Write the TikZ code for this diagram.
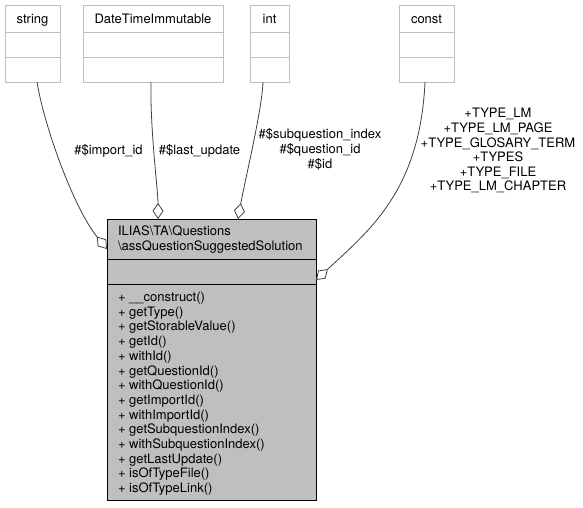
\documentclass[tikz,border=0pt]{standalone}
\usepackage{fontspec}
\setmainfont{TeX Gyre Heros}
\usetikzlibrary{arrows.meta,calc}
\definecolor{edgegray}{HTML}{404040}
\definecolor{boxline}{HTML}{BFBFBF}
\definecolor{mainfill}{HTML}{BFBFBF}
\begin{document}
\begin{tikzpicture}[x=1pt,y=-1pt,
  every node/.style={font=\fontsize{13}{13.6}\selectfont, inner sep=0pt, outer sep=0pt},
  typebox/.style={draw=boxline, line width=1pt, fill=white, anchor=north west, minimum height=77pt},
  mainbox/.style={draw=black, line width=1pt, fill=mainfill, anchor=north west, minimum width=209pt, minimum height=281pt},
  divider/.style={draw=boxline, line width=1pt},
  maindiv/.style={draw=black, line width=1pt},
  txt/.style={anchor=base west},
  lbl/.style={anchor=base},
  edge/.style={draw=edgegray, line width=0.8pt, -{Diamond[open, length=16pt, width=11pt, line width=0.8pt]}}]
\useasboundingbox (0,0) rectangle (583,507);
\fill[white] (0,0) rectangle (583,507);

% type boxes
\node[typebox, minimum width=55pt] (string) at (5,5) {};
\node[typebox, minimum width=140pt] (dti) at (83,5) {};
\node[typebox, minimum width=39pt] (int) at (250,5) {};
\node[typebox, minimum width=55pt] (const) at (399,5) {};
\foreach \b in {string,dti,int,const} {
  \draw[divider] ($(\b.north west)+(0,27)$) -- ($(\b.north east)+(0,27)$);
  \draw[divider] ($(\b.north west)+(0,52)$) -- ($(\b.north east)+(0,52)$);
}
\node[lbl] (tstring) at ($(string.north)+(0,18)$) {string};
\node[lbl] (tdti) at ($(dti.north)+(0,18)$) {DateTimeImmutable};
\node[lbl] (tint) at ($(int.north)+(0,18)$) {int};
\node[lbl] (tconst) at ($(const.north)+(0,18)$) {const};

% main class
\node[mainbox] (main) at (107,219) {};
\draw[maindiv] ($(main.north west)+(0,40)$) -- ($(main.north east)+(0,40)$);
\draw[maindiv] ($(main.north west)+(0,65)$) -- ($(main.north east)+(0,65)$);
\node[txt] (title1) at (118,235.5) {ILIAS\textbackslash TA\textbackslash Questions};
\node[txt] (title2) at (118,250.5) {\textbackslash assQuestionSuggestedSolution};
\foreach \m [count=\i from 0] in {%
  {+ \_\_construct()},{+ getType()},{+ getStorableValue()},{+ getId()},{+ withId()},%
  {+ getQuestionId()},{+ withQuestionId()},{+ getImportId()},{+ withImportId()},%
  {+ getSubquestionIndex()},{+ withSubquestionIndex()},{+ getLastUpdate()},%
  {+ isOfTypeFile()},{+ isOfTypeLink()}} {
  \node[txt] (m\i) at (118,{301.5+14.7*\i}) {\m};
}

% edges
\draw[edge] ($(string.south)+(4.5,0)$) .. controls (45,130) and (75,210) .. ($(main.north west)+(0,30)$);
\draw[edge] ($(dti.south)+(-2,0)$) .. controls (150,130) and (158,190) .. ($(main.north west)+(51,0)$);
\draw[edge] ($(int.south)+(-6.5,0)$) .. controls (262,110) and (245,180) .. ($(main.north west)+(131,0)$);
\draw[edge] ($(const.south)+(-1.5,0)$) .. controls (420,190) and (370,230) .. ($(main.north east)+(0,61)$);

% edge labels
\node[lbl] (limport) at (108.5,154.5) {\#\$import\_id};
\node[lbl] (lupdate) at (199.5,154.5) {\#\$last\_update};
\node[lbl] (lsub) at (320,138.5) {\#\$subquestion\_index};
\node[lbl] (lqid) at (320,153.5) {\#\$question\_id};
\node[lbl] (lid) at (320,168.5) {\#\$id};
\node[lbl] (c1) at (498,117.5) {+TYPE\_LM};
\node[lbl] (c2) at (498,132) {+TYPE\_LM\_PAGE};
\node[lbl] (c3) at (498,147) {+TYPE\_GLOSARY\_TERM};
\node[lbl] (c4) at (498,161.5) {+TYPES};
\node[lbl] (c5) at (498,176.5) {+TYPE\_FILE};
\node[lbl] (c6) at (498,190.5) {+TYPE\_LM\_CHAPTER};
\end{tikzpicture}
\end{document}
